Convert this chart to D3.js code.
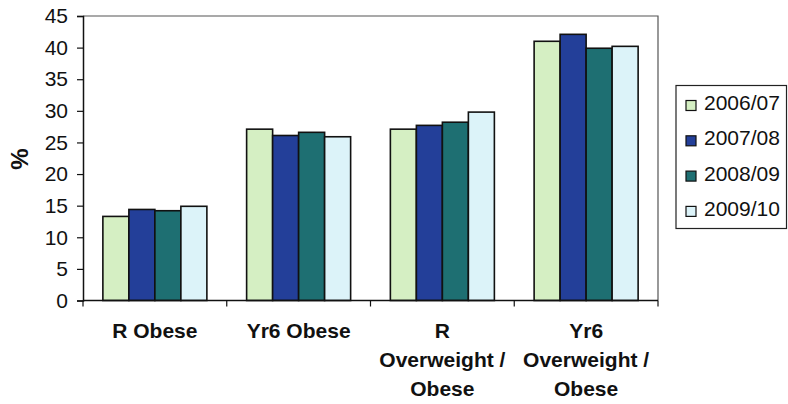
<!DOCTYPE html>
<html>
<head>
<meta charset="utf-8">
<script src="https://cdn.jsdelivr.net/npm/d3@7"></script>
<style>
  html, body { margin: 0; padding: 0; background: #ffffff; }
  svg { display: block; }
  text { font-family: "Liberation Sans", Arial, sans-serif; fill: #111; }
</style>
</head>
<body>
<svg id="chart" width="788" height="404"></svg>
<script>
// Category labels, one array of lines per category
const categoryLines = [
  ["R Obese"],
  ["Yr6 Obese"],
  ["R", "Overweight /", "Obese"],
  ["Yr6", "Overweight /", "Obese"]
];
const categories = categoryLines.map(l => l.join(" "));

// School years shown as series
const seriesNames = ["2006/07", "2007/08", "2008/09", "2009/10"];

// Percentages per series, in category order
const v2006 = [13.3, 27.1, 27.1, 41.0];
const v2007 = [14.4, 26.1, 27.7, 42.1];
const v2008 = [14.2, 26.6, 28.2, 39.9];
const v2009 = [14.9, 25.9, 29.8, 40.2];
const seriesValues = [v2006, v2007, v2008, v2009];

const yTicks = [0, 5, 10, 15, 20, 25, 30, 35, 40, 45];
const colors = ["#d5efc3", "#233f99", "#1e6f72", "#dcf3f9"];

const svg = d3.select("#chart");
const plot = { left: 83, right: 658, top: 16, bottom: 300.5 };

const y = d3.scaleLinear().domain([0, 45]).range([plot.bottom, plot.top]);
const xEdges = d3.scaleBand().domain(categories).range([plot.left, plot.right]).padding(0);
const x0 = d3.scaleBand().domain(categories).range([plot.left, plot.right])
  .paddingInner(0.2765).paddingOuter(0.2765 / 2);
const x1 = d3.scaleBand().domain(seriesNames).range([0, x0.bandwidth()]).padding(0);
const color = d3.scaleOrdinal().domain(seriesNames).range(colors);

// Plot area frame (top and right)
svg.append("path")
  .attr("d", `M${plot.left},${plot.top}H${plot.right}V${plot.bottom}`)
  .attr("fill", "none").attr("stroke", "#555").attr("stroke-width", 1.2);

// Bars
const rows = categories.map((c, i) => ({
  cat: c,
  vals: seriesNames.map((s, j) => ({ s, v: seriesValues[j][i] }))
}));
const groups = svg.append("g").selectAll("g").data(rows).join("g")
  .attr("transform", d => `translate(${x0(d.cat)},0)`);
groups.selectAll("rect").data(d => d.vals).join("rect")
  .attr("x", d => x1(d.s))
  .attr("y", d => y(d.v))
  .attr("width", x1.bandwidth())
  .attr("height", d => y(0) - y(d.v))
  .attr("fill", d => color(d.s))
  .attr("stroke", "#111").attr("stroke-width", 1.6);

// Y axis
const yAxis = d3.axisLeft(y).tickValues(yTicks).tickSize(6).tickPadding(9);
const gy = svg.append("g").attr("transform", `translate(${plot.left},0)`).call(yAxis);
gy.select(".domain").attr("stroke", "#111").attr("stroke-width", 1.5);
gy.selectAll(".tick line").attr("stroke", "#111").attr("stroke-width", 1.2);
gy.selectAll(".tick text").style("font-size", "21px").attr("fill", "#111");

// X axis baseline with ticks at category boundaries
const edges = categories.map(c => xEdges(c)).concat([plot.right]);
svg.append("line")
  .attr("x1", plot.left).attr("x2", plot.right)
  .attr("y1", y(0)).attr("y2", y(0))
  .attr("stroke", "#111").attr("stroke-width", 1.5);
svg.append("g").selectAll("line").data(edges).join("line")
  .attr("x1", d => d).attr("x2", d => d)
  .attr("y1", y(0)).attr("y2", y(0) + 6)
  .attr("stroke", "#111").attr("stroke-width", 1.2);

// Category labels
const labels = svg.append("g").selectAll("text").data(categoryLines).join("text")
  .attr("text-anchor", "middle")
  .style("font-size", "21px").style("font-weight", "bold")
  .attr("transform", (d, i) => `translate(${xEdges(categories[i]) + xEdges.bandwidth() / 2},338)`);
labels.selectAll("tspan").data(d => d).join("tspan")
  .attr("x", 0).attr("y", (d, i) => i * 29)
  .text(d => d);

// Y axis title
svg.append("text")
  .attr("transform", "translate(28,159) rotate(-90)")
  .attr("text-anchor", "middle")
  .style("font-size", "24px").style("font-weight", "bold")
  .text("%");

// Legend
const legend = svg.append("g").attr("transform", "translate(676,85.5)");
legend.append("rect")
  .attr("width", 110.5).attr("height", 143)
  .attr("fill", "#fff").attr("stroke", "#222").attr("stroke-width", 1.2);
const items = legend.selectAll("g.item").data(seriesNames).join("g")
  .attr("class", "item")
  .attr("transform", (d, i) => `translate(0,${24.5 + i * 35.3})`);
items.append("rect")
  .attr("x", 10).attr("y", -9.5).attr("width", 10).attr("height", 10)
  .attr("fill", d => color(d)).attr("stroke", "#111").attr("stroke-width", 1.2);
items.append("text")
  .attr("x", 28).attr("y", 0)
  .style("font-size", "21px")
  .text(d => d);
</script>
</body>
</html>
